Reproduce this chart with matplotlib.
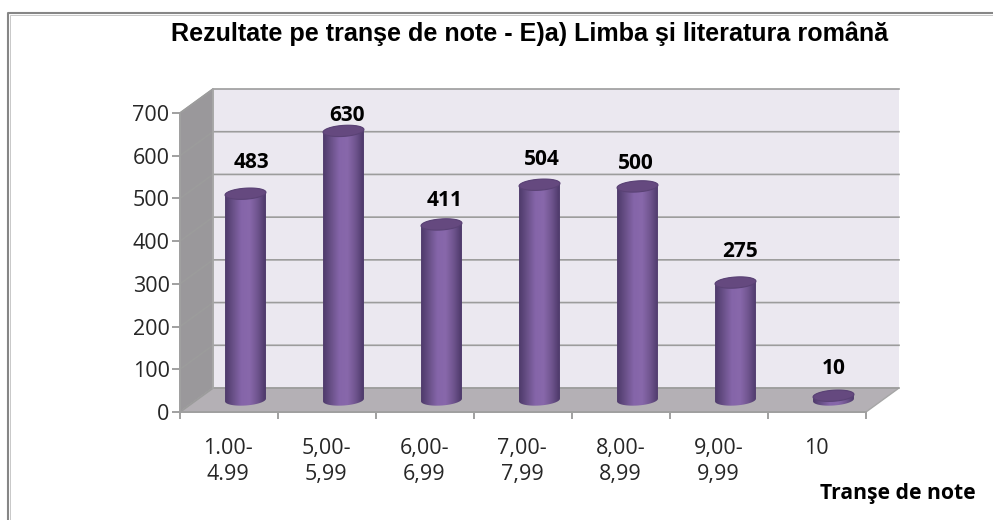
import numpy as np
import matplotlib
matplotlib.use("Agg")
import matplotlib.pyplot as plt
from matplotlib.lines import Line2D
from matplotlib.patches import PathPatch, Polygon
from matplotlib.path import Path
from matplotlib.colors import LinearSegmentedColormap

categories = ["1.00-\n4.99", "5,00-\n5,99", "6,00-\n6,99", "7,00-\n7,99",
              "8,00-\n8,99", "9,00-\n9,99", "10"]
values = [483, 630, 411, 504, 500, 275, 10]
y_ticks = [0, 100, 200, 300, 400, 500, 600, 700]
title = "Rezultate pe tranşe de note - E)a) Limba şi literatura română"
x_title = "Tranşe de note"
# etichetele sunt mutate manual in original (pixeli fata de capacul cilindrului)
label_dx = [6, 4, 3, 2, -2, 5, 0]
label_dy = [31, 15, 24, 25, 23, 31, 27]

W, H = 993, 520
# fata din fata a graficului, in pixeli
LEFT, RIGHT, BOTTOM, TOP = 180, 866, 412, 113
# adancimea 3D in pixeli
DEPTH_X, DEPTH_Y = 33, 24

plt.rcParams["font.family"] = ["Open Sans", "DejaVu Sans"]

fig = plt.figure(figsize=(W / 100, H / 100), dpi=100)
ax = fig.add_axes([LEFT / W, 1 - BOTTOM / H, (RIGHT - LEFT) / W, (BOTTOM - TOP) / H])
ax.set_xlim(0, len(categories))
ax.set_ylim(0, 700)
for s in ax.spines.values():
    s.set_visible(False)

ux = (RIGHT - LEFT) / len(categories)   # pixeli pe categorie
uy = (BOTTOM - TOP) / 700               # pixeli pe unitate
dx = DEPTH_X / ux
dy = DEPTH_Y / uy
nx = len(categories)

# chenarul exterior
fig.add_artist(Line2D([8 / W, 8 / W, 1], [0, 1 - 13 / H, 1 - 13 / H],
                      color="#868686", lw=1.5, transform=fig.transFigure))
fig.add_artist(Line2D([9.5 / W, 9.5 / W, 1], [0, 1 - 14.5 / H, 1 - 14.5 / H],
                      color="#C8C8C8", lw=0.7, transform=fig.transFigure))

# pereti si podea
ax.add_patch(Polygon([(dx, dy), (nx + dx, dy), (nx + dx, 700 + dy), (dx, 700 + dy)],
                     fc="#EBE8F0", ec="none", clip_on=False, zorder=1))
ax.add_patch(Polygon([(0, 0), (dx, dy), (dx, 700 + dy), (0, 700)],
                     fc="#9A989B", ec="#A6A6A6", lw=1, clip_on=False, zorder=1))
ax.add_patch(Polygon([(0, 0), (nx, 0), (nx + dx, dy), (dx, dy)],
                     fc="#B4B0B5", ec="#A6A6A6", lw=1, clip_on=False, zorder=1))

# liniile de grila
for t in y_ticks:
    ax.plot([0, dx, nx + dx], [t, t + dy, t + dy], color="#9C9C9C", lw=1.2,
            clip_on=False, zorder=2, solid_joinstyle="miter")
ax.plot([dx, dx], [dy, 700 + dy], color="#A6A6A6", lw=1.2, clip_on=False, zorder=2)

# axele
ax.plot([0, 0], [0, 700], color="#A0A0A0", lw=1.4, clip_on=False, zorder=3)
ax.plot([0, nx], [0, 0], color="#A0A0A0", lw=1.4, clip_on=False, zorder=3)
ax.set_yticks(y_ticks)
ax.set_xticks(range(nx + 1))
ax.set_xticklabels([])
ax.tick_params(axis="y", length=6, width=1.4, color="#A0A0A0", labelsize=15.5,
               labelcolor="#262626", pad=1.5)
ax.tick_params(axis="x", length=5, width=1.4, color="#A0A0A0")

for i, c in enumerate(categories):
    ax.annotate(c, (i + 0.5, 0), xytext=(-0.5, -19), textcoords="offset points",
                ha="center", va="top", fontsize=15.5, color="#262626",
                linespacing=1.3, annotation_clip=False)

# cilindrii
cmap = LinearSegmentedColormap.from_list(
    "cil", ["#4E3A6B", "#6A5189", "#8565A9", "#8868AB", "#70558F", "#4C3869"])
grad = np.linspace(0, 1, 64).reshape(1, -1)
bar_w = 41 / ux
base = dy / 2
A, B = 41 / 2, 5.5          # semiaxele elipsei, pixeli
TILT = np.radians(4)


def ellipse_xy(cx, cy, t):
    """punct pe elipsa usor inclinata, calculat in pixeli si intors in unitati de date"""
    px = A * np.cos(t) * np.cos(TILT) - B * np.sin(t) * np.sin(TILT)
    py = A * np.cos(t) * np.sin(TILT) + B * np.sin(t) * np.cos(TILT)
    return cx + px / ux, cy + py / uy


for i, v in enumerate(values):
    cx = i + 0.5 + dx / 2
    l, r = cx - bar_w / 2, cx + bar_w / 2
    top = base + v
    # corpul: jumatatea de jos a bazei, apoi jumatatea de sus a capacului
    xb, yb = ellipse_xy(cx, base, np.linspace(np.pi, 2 * np.pi, 40))
    xt, yt = ellipse_xy(cx, top, np.linspace(0, np.pi, 40))
    verts = list(zip(xb, yb)) + list(zip(xt, yt)) + [(xb[0], yb[0])]
    codes = [Path.MOVETO] + [Path.LINETO] * (len(verts) - 2) + [Path.CLOSEPOLY]
    body = PathPatch(Path(verts, codes), fc="none", ec="none", transform=ax.transData)
    ax.add_patch(body)
    im = ax.imshow(grad, extent=(l, r, base - 20, top + 20), cmap=cmap, aspect="auto",
                   zorder=4, interpolation="bilinear")
    im.set_clip_path(body)
    # capacul
    xc, yc = ellipse_xy(cx, top, np.linspace(0, 2 * np.pi, 80))
    ax.add_patch(Polygon(np.column_stack([xc, yc]), fc="#65497F", ec="#5A4275",
                         lw=0.8, clip_on=False, zorder=5))
    ax.annotate(str(v), (cx, top),
                xytext=(label_dx[i] * 0.72, label_dy[i] * 0.72), textcoords="offset points",
                ha="center", va="center", fontsize=15, fontweight="bold", color="black",
                annotation_clip=False, zorder=6)

ax.set_xlim(0, nx)
ax.set_ylim(0, 700)

fig.text(530 / W, 1 - 34 / H, title, ha="center", va="center", fontsize=18.1,
         fontweight="bold", family=["Liberation Sans", "DejaVu Sans"], color="black")
fig.text(898 / W, 1 - 494 / H, x_title, ha="center", va="center", fontsize=15.2,
         fontweight="bold", color="black")

fig.savefig("out.png", dpi=100)
